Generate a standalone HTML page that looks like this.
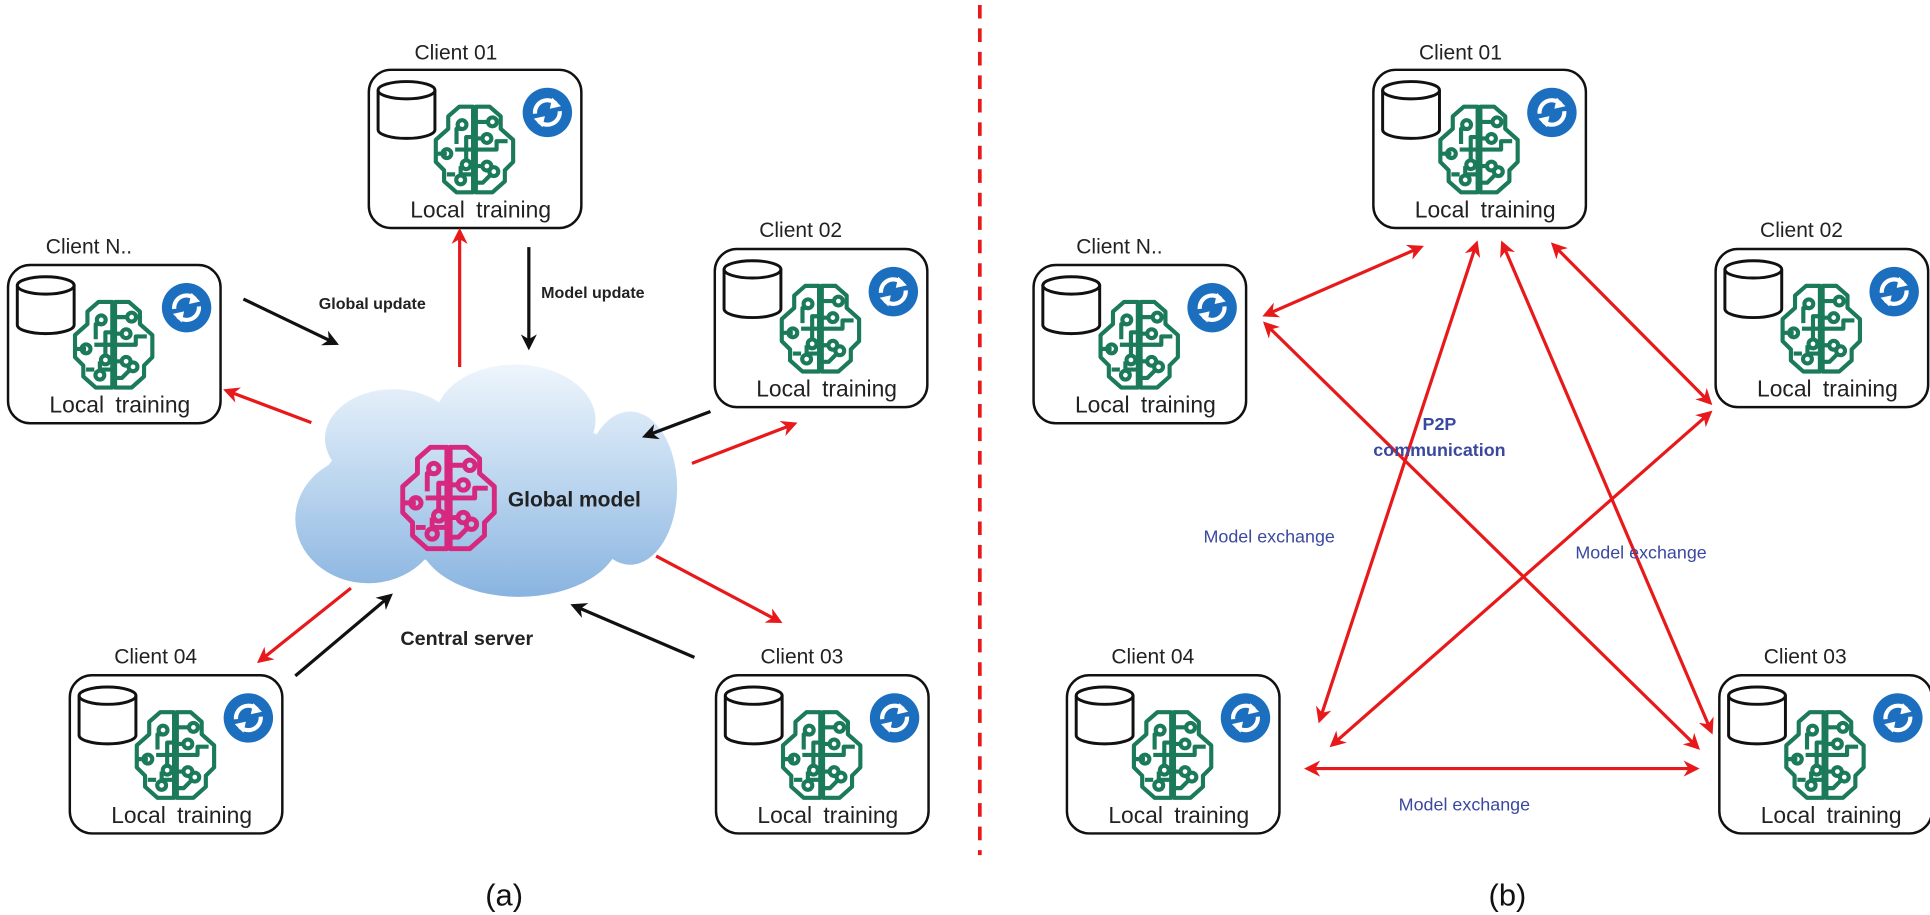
<!DOCTYPE html>
<html><head><meta charset="utf-8"><style>
html,body{margin:0;padding:0;background:#fff;width:1930px;height:915px;overflow:hidden}
svg{display:block}
text{font-family:"Liberation Sans",sans-serif}
</style></head><body>
<svg width="1930" height="915" viewBox="0 0 1562 740.5" preserveAspectRatio="none" xmlns="http://www.w3.org/2000/svg">
<defs>
<linearGradient id="cg" gradientUnits="userSpaceOnUse" x1="0" y1="295" x2="0" y2="485">
<stop offset="0" stop-color="#eef5fc"/><stop offset="0.5" stop-color="#bcd6ef"/><stop offset="1" stop-color="#88b3e0"/></linearGradient>
<symbol id="brain" viewBox="0 0 68 68">
<g fill="none" stroke-width="3" stroke-linejoin="round">
<path d="M33 3 L23 3 L15 10 L15 19 L6 27 L6 43 L12 49 L12 57 L21 65 L33 65 Z"/>
<path d="M35 3 L45 3 L53 10 L53 19 L62 27 L62 43 L56 49 L56 57 L47 65 L35 65 Z"/>
<path d="M33 34 L20 34 M14 37 L6 37 M25 19 L21 19 L21 30 M33 25 L28 25 L28 42 M33 52 L24 52 L24 46 M20 52 L14 52"/>
<path d="M35 14 L44 14 M35 26 L40 26 M35 34 L50 34 L50 28 L58 28 M35 46 L40 46 M35 58 L40 58 L46 52"/>
<circle cx="25" cy="16" r="3.2"/><circle cx="14" cy="37" r="3.2"/><circle cx="28" cy="45" r="3.2"/><circle cx="24" cy="56" r="3.2"/>
<circle cx="47" cy="14" r="3.2"/><circle cx="43" cy="26" r="3.2"/><circle cx="43" cy="46" r="3.2"/><circle cx="48" cy="50" r="3.2"/>
</g></symbol>
<symbol id="node" viewBox="0 0 175 131">
<rect x="1.5" y="1.5" width="172" height="128" rx="18" fill="#fff" stroke="#111" stroke-width="2"/>
<path d="M9 18 L9 50 A23 7 0 0 0 55 50 L55 18" fill="#fff" stroke="#111" stroke-width="2.4"/>
<ellipse cx="32" cy="18" rx="23" ry="7" fill="#fff" stroke="#111" stroke-width="2.4"/>
<use href="#brain" x="48" y="28" width="78" height="76" stroke="#1a7a5a"/>
<circle cx="146" cy="36" r="20" fill="#1c6fbe"/>
<g fill="none" stroke="#fff" stroke-width="3.4">
<path d="M136 37 A10 10 0 0 1 153 29"/><path d="M156 35 A10 10 0 0 1 139 43"/></g>
<path d="M150 24 L157 31 L148 33 Z M142 48 L135 41 L144 39 Z" fill="#fff"/>
<text x="92" y="121" font-size="18.5" text-anchor="middle" fill="#222" word-spacing="4">Local training</text>
</symbol>
<marker id="ar" viewBox="0 0 10 10" refX="8" refY="5" markerWidth="5" markerHeight="5" orient="auto-start-reverse"><path d="M0 0 L10 5 L0 10 L3 5 Z" fill="#e8191b"/></marker>
<marker id="ak" viewBox="0 0 10 10" refX="8" refY="5" markerWidth="5" markerHeight="5" orient="auto"><path d="M0 0 L10 5 L0 10 L3 5 Z" fill="#111"/></marker>
</defs>

<line x1="793" y1="4" x2="793" y2="692" stroke="#e8191b" stroke-width="3" stroke-dasharray="11,8"/>

<g fill="url(#cg)">
<ellipse cx="298" cy="420" rx="59" ry="52"/>
<ellipse cx="318" cy="355" rx="55" ry="40"/>
<ellipse cx="417" cy="340" rx="65" ry="45"/>
<ellipse cx="510" cy="395" rx="38" ry="62"/>
<ellipse cx="420" cy="433" rx="82" ry="50"/>
<ellipse cx="390" cy="395" rx="130" ry="62"/>
</g>
<use href="#brain" x="316" y="358" width="94" height="90" stroke="#d6287f"/>
<text x="411" y="410" font-size="17" font-weight="bold" fill="#222">Global model</text>
<text x="324" y="522" font-size="16" font-weight="bold" fill="#222">Central server</text>

<use href="#node" x="297" y="55" width="175" height="131"/>
<text x="369" y="48" font-size="17" text-anchor="middle" fill="#222">Client 01</text>
<use href="#node" x="5" y="213" width="175" height="131"/>
<text x="72" y="205" font-size="17" text-anchor="middle" fill="#222">Client  N..</text>
<use href="#node" x="577" y="200" width="175" height="131"/>
<text x="648" y="192" font-size="17" text-anchor="middle" fill="#222">Client 02</text>
<use href="#node" x="55" y="545" width="175" height="131"/>
<text x="126" y="537" font-size="17" text-anchor="middle" fill="#222">Client 04</text>
<use href="#node" x="578" y="545" width="175" height="131"/>
<text x="649" y="537" font-size="17" text-anchor="middle" fill="#222">Client 03</text>

<g stroke-width="2.6">
<line x1="372" y1="297" x2="372" y2="187" stroke="#e8191b" marker-end="url(#ar)"/>
<line x1="428" y1="200" x2="428" y2="281" stroke="#111" marker-end="url(#ak)"/>
<line x1="197" y1="242" x2="272" y2="278" stroke="#111" marker-end="url(#ak)"/>
<line x1="252" y1="342" x2="183" y2="316" stroke="#e8191b" marker-end="url(#ar)"/>
<line x1="575" y1="333" x2="522" y2="353" stroke="#111" marker-end="url(#ak)"/>
<line x1="560" y1="375" x2="643" y2="343" stroke="#e8191b" marker-end="url(#ar)"/>
<line x1="531" y1="450" x2="631" y2="503" stroke="#e8191b" marker-end="url(#ar)"/>
<line x1="562" y1="532" x2="464" y2="490" stroke="#111" marker-end="url(#ak)"/>
<line x1="284" y1="476" x2="210" y2="535" stroke="#e8191b" marker-end="url(#ar)"/>
<line x1="239" y1="547" x2="316" y2="482" stroke="#111" marker-end="url(#ak)"/>
</g>
<text x="258" y="250" font-size="13" font-weight="bold" fill="#222">Global update</text>
<text x="438" y="241" font-size="13" font-weight="bold" fill="#222">Model update</text>

<use href="#node" x="1110" y="55" width="175" height="131"/>
<text x="1182" y="48" font-size="17" text-anchor="middle" fill="#222">Client 01</text>
<use href="#node" x="835" y="213" width="175" height="131"/>
<text x="906" y="205" font-size="17" text-anchor="middle" fill="#222">Client N..</text>
<use href="#node" x="1387" y="200" width="175" height="131"/>
<text x="1458" y="192" font-size="17" text-anchor="middle" fill="#222">Client 02</text>
<use href="#node" x="862" y="545" width="175" height="131"/>
<text x="933" y="537" font-size="17" text-anchor="middle" fill="#222">Client 04</text>
<use href="#node" x="1390" y="545" width="175" height="131"/>
<text x="1461" y="537" font-size="17" text-anchor="middle" fill="#222">Client 03</text>

<g stroke="#e8191b" stroke-width="2.6" marker-start="url(#ar)" marker-end="url(#ar)">
<line x1="1024" y1="255" x2="1150" y2="200"/>
<line x1="1257" y1="198" x2="1384" y2="326"/>
<line x1="1195" y1="197" x2="1068" y2="583"/>
<line x1="1216" y1="197" x2="1385" y2="592"/>
<line x1="1024" y1="262" x2="1374" y2="605"/>
<line x1="1384" y1="334" x2="1078" y2="603"/>
<line x1="1058" y1="622" x2="1373" y2="622"/>
</g>
<g fill="#3a48a0" font-size="14.5">
<text x="1165" y="348" text-anchor="middle" font-weight="bold">P2P</text>
<text x="1165" y="369" text-anchor="middle" font-weight="bold">communication</text>
<text x="974" y="439">Model exchange</text>
<text x="1275" y="452">Model exchange</text>
<text x="1132" y="656">Model exchange</text>
</g>

<text x="408" y="733" font-size="25" text-anchor="middle" fill="#111">(a)</text>
<text x="1220" y="733" font-size="25" text-anchor="middle" fill="#111">(b)</text>
</svg>
</body></html>
